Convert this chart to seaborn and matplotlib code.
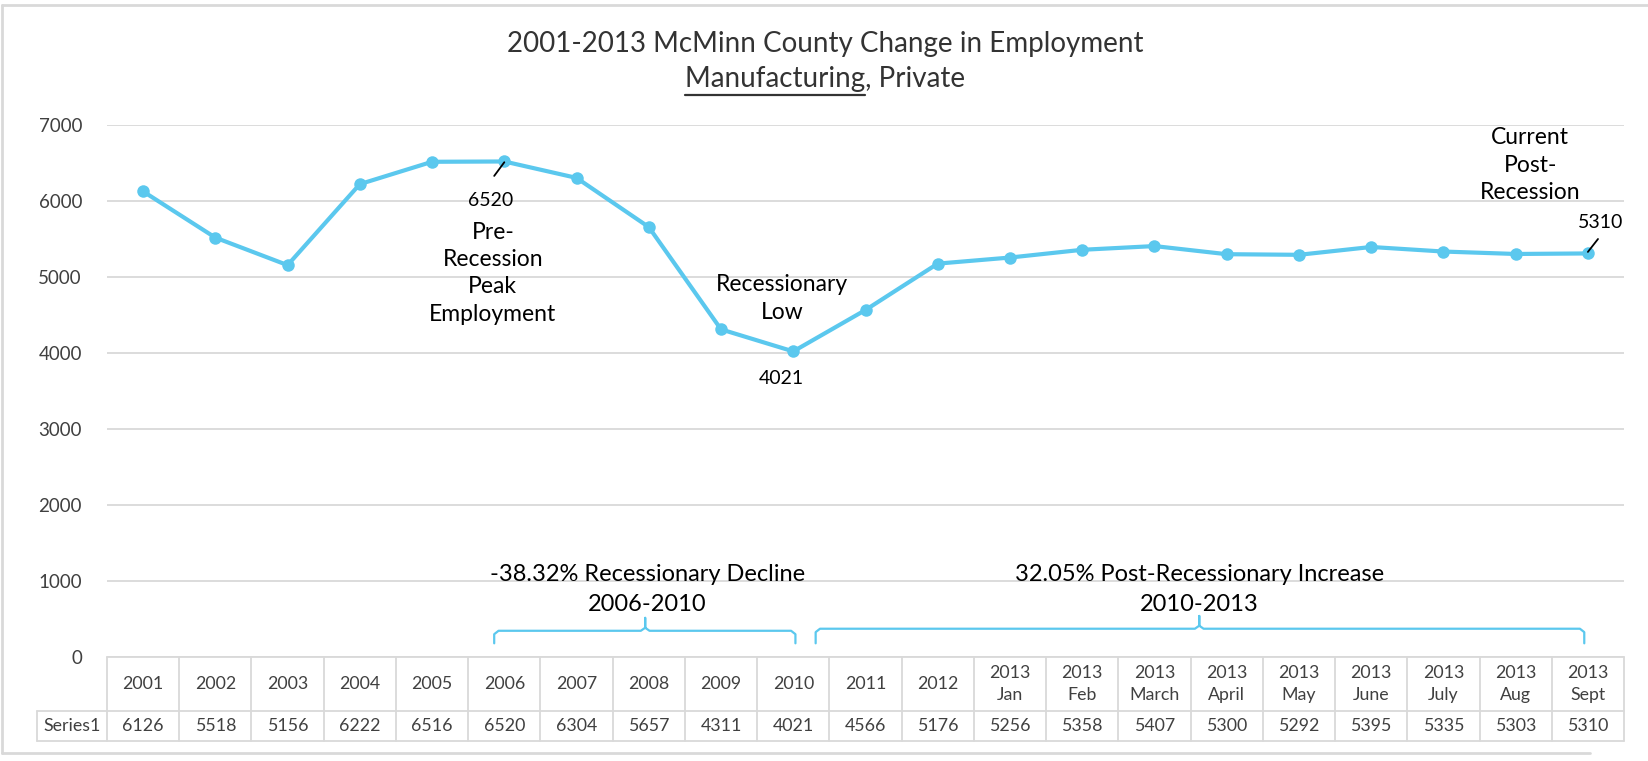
import numpy as np
import pandas as pd
import matplotlib
matplotlib.use('Agg')
from matplotlib import pyplot as plt
import seaborn as sns

periods = ['2001', '2002', '2003', '2004', '2005', '2006', '2007', '2008', '2009', '2010',
           '2011', '2012', '2013\nJan', '2013\nFeb', '2013\nMarch', '2013\nApril', '2013\nMay',
           '2013\nJune', '2013\nJuly', '2013\nAug', '2013\nSept']
employment = [6126, 5518, 5156, 6222, 6516, 6520, 6304, 5657, 4311, 4021,
              4566, 5176, 5256, 5358, 5407, 5300, 5292, 5395, 5335, 5303, 5310]
y_ticks = [0, 1000, 2000, 3000, 4000, 5000, 6000, 7000]
series_name = 'Series1'

BLUE = '#5BC8EE'
GRID = '#D9D9D9'
TXT = '#404040'

sns.set_style('white')
plt.rcParams['font.family'] = ['Lato', 'DejaVu Sans']

df = pd.DataFrame({'pos': np.arange(len(periods)), 'value': employment})

W, H = 1648, 761
fig = plt.figure(figsize=(W / 100, H / 100), dpi=100)
ax_l, ax_r, ax_t, ax_b = 107, 1624, 125, 657
ax = fig.add_axes([ax_l / W, (H - ax_b) / H, (ax_r - ax_l) / W, (ax_b - ax_t) / H])

sns.lineplot(data=df, x='pos', y='value', ax=ax, color=BLUE, linewidth=3,
             marker='o', markersize=9, markeredgewidth=0, zorder=5)

ax.set_xlim(-0.5, len(periods) - 0.5)
ax.set_ylim(0, 7000)
ax.set_yticks(y_ticks)
ax.set_yticklabels([str(v) for v in y_ticks], fontsize=13.5, color=TXT)
ax.tick_params(axis='y', length=0, pad=18)
ax.set_xticks([])
ax.set_xlabel('')
ax.set_ylabel('')
ax.grid(axis='y', color=GRID, linewidth=1.3)
for s in ax.spines.values():
    s.set_visible(False)

# data table under the plot
tr = ax.get_xaxis_transform()
n = len(periods)
row1 = -54 / (ax_b - ax_t)
row2 = -84 / (ax_b - ax_t)
col_w = (ax_r - ax_l) / n
left_edge = -0.5 + (37 - ax_l) / col_w
kw = dict(transform=tr, color=GRID, linewidth=1.3, clip_on=False)
ax.plot([-0.5, n - 0.5], [0, 0], **kw)
ax.plot([left_edge, n - 0.5], [row1, row1], **kw)
ax.plot([left_edge, n - 0.5], [row2, row2], **kw)
ax.plot([left_edge, left_edge], [row1, row2], **kw)
for k in range(n + 1):
    ax.plot([k - 0.5, k - 0.5], [0, row2], **kw)
for i, (p, v) in enumerate(zip(periods, employment)):
    ax.text(i, row1 / 2, p, transform=tr, ha='center', va='center', fontsize=12.8,
            color=TXT, linespacing=1.45)
    ax.text(i, (row1 + row2) / 2, str(v), transform=tr, ha='center', va='center',
            fontsize=12.8, color=TXT)
ax.text((left_edge - 0.5) / 2, (row1 + row2) / 2, series_name, transform=tr,
        ha='center', va='center', fontsize=12.8, color=TXT)

# annotations
num = dict(ha='center', va='center', fontsize=14, color='black')
ann = dict(ha='center', va='center', fontsize=16.5, color='black', linespacing=1.38)
ax.text(4.81, 6010, '6520', **num)
ax.plot([4.86, 5.0], [6330, 6510], color='black', linewidth=1.3, zorder=6)
ax.text(4.84, 5050, 'Pre-\nRecession\nPeak\nEmployment', **ann)
ax.text(8.85, 4720, 'Recessionary\nLow', **ann)
ax.text(8.83, 3660, '4021', **num)
ax.text(19.2, 6470, 'Current\nPost-\nRecession', **ann)
ax.text(20.17, 5720, '5310', **num)
ax.plot([20.0, 20.14], [5330, 5500], color='black', linewidth=1.3, zorder=6)

# brackets
def bracket(x0, x1, xc, yh, ye, yt):
    d = 0.06
    xs = [x0, x0, x0 + d, xc - d, xc, xc, xc, xc + d, x1 - d, x1, x1]
    ys = [ye, yh - 45, yh, yh, yh + 40, yt, yh + 40, yh, yh, yh - 45, ye]
    ax.plot(xs, ys, color=BLUE, linewidth=1.6, clip_on=False, zorder=4)

bracket(4.86, 9.03, 6.95, 345, 180, 515)
bracket(9.31, 19.95, 14.62, 372, 180, 540)

sub = dict(ha='center', va='center', fontsize=17, color='black')
ax.text(6.98, 1092, '-38.32% Recessionary Decline', **sub)
ax.text(6.98, 697, '2006-2010', **sub)
ax.text(14.62, 1092, '32.05% Post-Recessionary Increase', **sub)
ax.text(14.62, 697, '2010-2013', **sub)

# title with underlined word
cx = 825 / W
fig.text(cx, 1 - 44 / H, '2001-2013 McMinn County Change in Employment', ha='center',
         va='center', fontsize=20, color='#333333')
t2 = fig.text(cx, 1 - 79 / H, 'Manufacturing, Private', ha='center', va='center',
              fontsize=20, color='#333333')
fig.canvas.draw()
r = fig.canvas.get_renderer()
bb = t2.get_window_extent(r)
tmp = fig.text(0, 0, 'Manufacturing', fontsize=20)
w = tmp.get_window_extent(r).width
tmp.remove()
uy = 1 - 95 / H
fig.add_artist(plt.Line2D([bb.x0 / W, (bb.x0 + w) / W], [uy, uy], color='#333333',
                          linewidth=1.6))

# chart frame
fr = dict(color=GRID, linewidth=2)
fig.add_artist(plt.Line2D([2 / W, 1], [1 - 5 / H, 1 - 5 / H], **fr))
fig.add_artist(plt.Line2D([2 / W, 2 / W], [1 - 5 / H, 1 - 753 / H], **fr))
fig.add_artist(plt.Line2D([2 / W, 1590 / W], [1 - 753 / H, 1 - 753 / H], **fr))

fig.savefig('out.png', dpi=100)
